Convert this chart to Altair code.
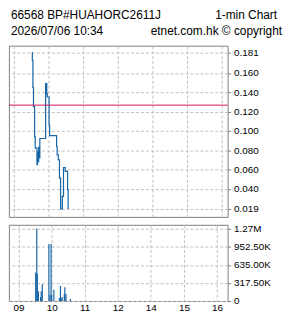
import altair as alt
import pandas as pd

# ---- text ----
title_code = "66568 BP#HUAHORC2611J"
title_kind = "1-min Chart"
title_time = "2026/07/06 10:34"
title_src = "etnet.com.hk \u00a9 copyright"

# ---- price series (1-min, step) ----
price_times = ["09:31", "09:32", "09:33", "09:34", "09:36", "09:37", "09:40", "09:41",
               "09:42", "09:43", "09:44", "09:45", "09:55", "09:57", "09:58", "10:01",
               "10:02", "10:14", "10:15", "10:17", "10:19", "10:21", "10:24", "10:26",
               "10:29", "10:33", "10:34"]
price_values = [0.181, 0.173, 0.145, 0.125, 0.094, 0.082, 0.065, 0.078,
                0.068, 0.083, 0.072, 0.092, 0.149, 0.138, 0.135, 0.106,
                0.095, 0.084, 0.075, 0.070, 0.051, 0.019, 0.032, 0.062,
                0.058, 0.039, 0.019]
prev_close = 0.1266

# ---- volume ----
vol_times = ["09:31", "09:33", "09:34", "09:36", "09:40", "09:41", "09:43", "09:55",
             "09:57", "09:59", "10:00", "10:04", "10:14", "10:16", "10:17", "10:19",
             "10:23", "10:24", "10:26", "10:34"]
vol_values = [500000, 1270000, 480000, 170000, 70000, 170000, 295000, 1000000,
              110000, 1000000, 100000, 196000, 52000, 265000, 52000, 70000,
              122000, 243000, 122000, 35000]

# ---- axes ----
x_tick_pos = [0, 1, 2, 3, 4, 5, 6]
x_tick_labels = ["09", "10", "11", "12", "14", "15", "16"]
price_ticks = [0.181, 0.160, 0.140, 0.120, 0.100, 0.080, 0.060, 0.040, 0.019]
vol_ticks = [0, 317500, 635000, 952500, 1270000]
vol_tick_labels = ["0", "317.50K", "635.00K", "952.50K", "1.27M"]


def session_pos(t):
    h, m = map(int, t.split(":"))
    v = h + m / 60.0
    return v - 9 if v < 12.5 else v - 10


price_df = pd.DataFrame({"t": [session_pos(t) for t in price_times], "price": price_values})
vol_df = pd.DataFrame({"t": [session_pos(t) for t in vol_times], "vol": vol_values})

x_domain = [-0.143, 6.171]
BLUE = "#1565a7"
FONT = "Liberation Sans"

x_label_expr = "{" + ",".join(f"'{p}':'{l}'" for p, l in zip(x_tick_pos, x_tick_labels)) + "}[datum.value]"
vol_label_expr = "{" + ",".join(f"'{v}':'{l}'" for v, l in zip(vol_ticks, vol_tick_labels)) + "}[datum.value]"

x_scale = alt.Scale(domain=x_domain, nice=False, zero=False)
x_top = alt.X("t:Q", scale=x_scale,
              axis=alt.Axis(values=x_tick_pos, labels=False, ticks=False, domain=False,
                            grid=True, title=None))
x_bot = alt.X("t:Q", scale=x_scale,
              axis=alt.Axis(values=x_tick_pos, labelExpr=x_label_expr, grid=True,
                            domain=False, title=None, labelPadding=2, ticks=False,
                            labelOverlap=False))

price_scale = alt.Scale(domain=[0.0108, 0.1882], nice=False, zero=False)
price_axis = alt.Axis(orient="right", values=price_ticks, format=".3f", title=None,
                      domain=False, grid=True, labelOverlap=False, labelFlush=False)

price_line = alt.Chart(price_df).mark_line(interpolate="step-after", color=BLUE, strokeWidth=1.2).encode(
    x=x_top,
    y=alt.Y("price:Q", scale=price_scale, axis=price_axis),
)
prev_rule = alt.Chart(pd.DataFrame({"price": [prev_close]})).mark_rule(color="#d0145a", strokeWidth=1).encode(
    y=alt.Y("price:Q", scale=price_scale, axis=price_axis)
)

texts = []
for txt, xv, yv, al in [(title_code, 2, -35.5, "left"), (title_kind, 271, -35.5, "right"),
                        (title_time, 2, -19.5, "left"), (title_src, 276, -19.5, "right")]:
    texts.append(
        alt.Chart(pd.DataFrame({"s": [txt]})).mark_text(
            align=al, baseline="top", font=FONT, fontSize=12, color="#000000"
        ).encode(text="s:N", x=alt.value(xv), y=alt.value(yv))
    )

top = alt.layer(price_line, prev_rule, *texts).properties(width=221, height=173)

vol_bars = alt.Chart(vol_df).mark_bar(width=1.2, color=BLUE).encode(
    x=x_bot,
    y=alt.Y("vol:Q", scale=alt.Scale(domain=[0, 1339600], nice=False, zero=True),
            axis=alt.Axis(orient="right", values=vol_ticks, labelExpr=vol_label_expr,
                          title=None, domain=False, grid=True, labelOverlap=False)),
)
bottom = vol_bars.properties(width=221, height=77)

chart = alt.vconcat(top, bottom, spacing=5).properties(
    padding={"left": 8, "top": 7.5, "right": 2, "bottom": 2},
    background="white",
).configure_view(
    stroke="#808080", strokeWidth=1
).configure_axis(
    gridColor="#c0c0c0", gridDash=[3, 2], gridWidth=1,
    tickColor="#808080", tickSize=3, labelPadding=3,
    labelFont=FONT, labelFontSize=10, labelColor="#000000",
    labelOverlap=False, labelFlush=False,
)

chart.save("out.html", embed_options={"renderer": "svg", "actions": False})
